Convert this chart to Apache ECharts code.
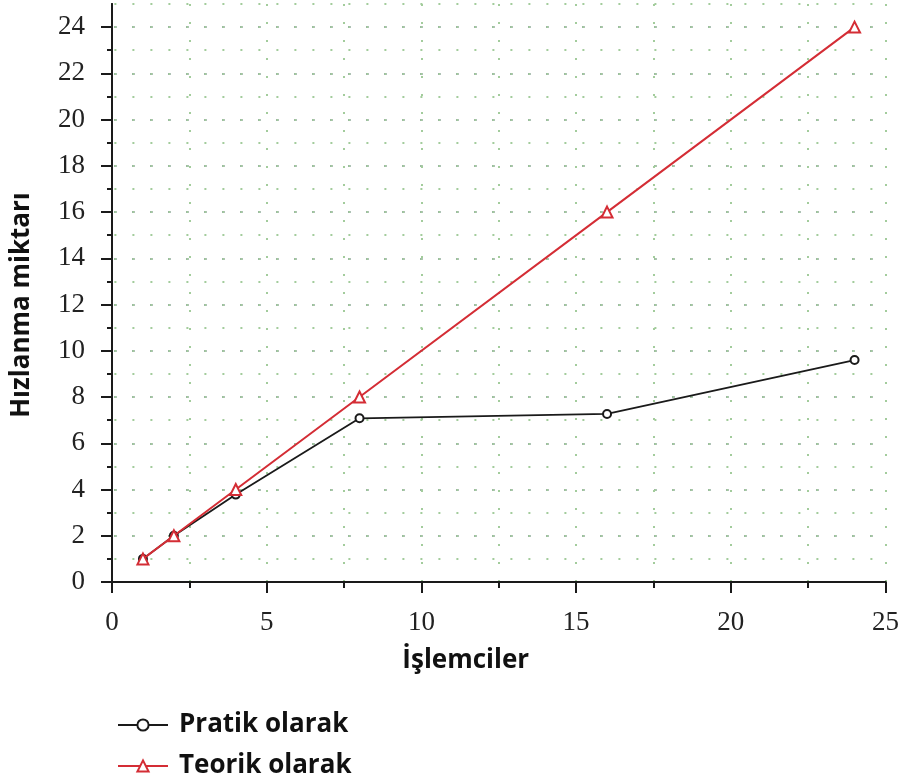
<!DOCTYPE html>
<html>
<head>
<meta charset="utf-8">
<script src="https://cdn.jsdelivr.net/npm/echarts@6/dist/echarts.min.js"></script>
<style>
  html, body { margin: 0; padding: 0; background: #fff; }
  #chart { width: 902px; height: 784px; }
</style>
</head>
<body>
<div id="chart"></div>
<script>
// Processor counts and measured / ideal speedup
const processors = [1, 2, 4, 8, 16, 24];
const pratik = [1, 2, 3.78, 7.08, 7.27, 9.6];
const teorik = [1, 2, 4, 8, 16, 24];

const seriesNames = ['Pratik olarak', 'Teorik olarak'];
const xName = 'İşlemciler';
const yName = 'Hızlanma miktarı';

// Tick values
const yMajorTicks = [0, 2, 4, 6, 8, 10, 12, 14, 16, 18, 20, 22, 24];
const yMinorTicks = [1, 3, 5, 7, 9, 11, 13, 15, 17, 19, 21, 23];
const xMajorTicks = [0, 5, 10, 15, 20, 25];
const xMinorTicks = [2.5, 7.5, 12.5, 17.5, 22.5];

const X_MIN = 0, X_MAX = 25, Y_MIN = 0, Y_MAX = 25;

const axisColor = '#1a1a1a';
const dotBlue = '#4f5b78';
const dotGreen = '#a3cc9c';
const dots = [2, 16];
const labelFont = { fontFamily: 'Liberation Serif', fontSize: 27, color: '#222' };
const nameFont = { fontFamily: 'Open Sans', fontWeight: 'bold', fontSize: 26, color: '#111' };

const line = { show: true, lineStyle: { color: axisColor, width: 2 } };
const noLine = { show: false };

function pairs(ys) { return processors.map((x, i) => [x, ys[i]]); }

// One legend block per row, stacked under the plot
function legendRow(name, top) {
  return {
    orient: 'vertical', left: 112, top: top,
    itemWidth: 50, itemHeight: 14,
    data: [name],
    textStyle: Object.assign({}, nameFont, { padding: [0, 0, 0, 6] })
  };
}

const chart = echarts.init(document.getElementById('chart'), null, { renderer: 'canvas' });

chart.setOption({
  backgroundColor: '#fff',
  animation: false,
  grid: { left: 112, right: 16, top: 4, bottom: 202, containLabel: false },
  legend: [legendRow(seriesNames[0], 707), legendRow(seriesNames[1], 748)],
  xAxis: [
    { // bottom, major ticks and labels
      type: 'value', position: 'bottom', min: X_MIN, max: X_MAX, interval: 5,
      axisLine: line,
      axisTick: { show: true, inside: false, length: 11, lineStyle: { color: axisColor, width: 2 }, customValues: xMajorTicks },
      axisLabel: Object.assign({ margin: 27, customValues: xMajorTicks }, labelFont),
      splitLine: { show: true, lineStyle: { color: dotBlue, width: 2, type: dots } },
      name: xName, nameLocation: 'middle', nameGap: 66,
      nameTextStyle: Object.assign({ padding: [0, 66, 0, 0] }, nameFont)
    },
    { // bottom, minor ticks
      type: 'value', position: 'bottom', min: X_MIN, max: X_MAX, interval: 2.5,
      axisLine: noLine,
      axisTick: { show: true, inside: false, length: 6, lineStyle: { color: axisColor, width: 2 }, customValues: xMinorTicks },
      axisLabel: { show: false },
      splitLine: { show: false }
    },
    { // minor grid columns
      type: 'value', position: 'bottom', min: X_MIN, max: X_MAX, interval: 2.5,
      axisLine: noLine, axisTick: { show: false }, axisLabel: { show: false },
      splitLine: { show: true, lineStyle: { color: dotGreen, width: 2, type: dots } },
      z: 0
    },
    { // top, major ticks inward
      type: 'value', position: 'top', min: X_MIN, max: X_MAX, interval: 5,
      axisLine: line,
      axisTick: { show: true, inside: true, length: 11, lineStyle: { color: axisColor, width: 2 }, customValues: xMajorTicks },
      axisLabel: { show: false }, splitLine: { show: false }
    },
    { // top, minor ticks inward
      type: 'value', position: 'top', min: X_MIN, max: X_MAX, interval: 2.5,
      axisLine: noLine,
      axisTick: { show: true, inside: true, length: 6, lineStyle: { color: axisColor, width: 2 }, customValues: xMinorTicks },
      axisLabel: { show: false }, splitLine: { show: false }
    }
  ],
  yAxis: [
    { // left, major ticks and labels
      type: 'value', position: 'left', min: Y_MIN, max: Y_MAX, interval: 2,
      axisLine: line,
      axisTick: { show: true, inside: false, length: 10, lineStyle: { color: axisColor, width: 2 }, customValues: yMajorTicks },
      axisLabel: Object.assign({ margin: 27, customValues: yMajorTicks }, labelFont),
      splitLine: { show: true, lineStyle: { color: dotBlue, width: 2, type: dots, dashOffset: 15.6 } },
      name: yName, nameLocation: 'middle', nameGap: 77, nameRotate: 90,
      nameTextStyle: Object.assign({ padding: [0, 24, 0, 0] }, nameFont)
    },
    { // left, minor ticks
      type: 'value', position: 'left', min: Y_MIN, max: Y_MAX, interval: 1,
      axisLine: noLine,
      axisTick: { show: true, inside: false, length: 5, lineStyle: { color: axisColor, width: 2 }, customValues: yMinorTicks },
      axisLabel: { show: false },
      splitLine: { show: false }
    },
    { // minor grid rows
      type: 'value', position: 'left', min: Y_MIN, max: Y_MAX, interval: 1,
      axisLine: noLine, axisTick: { show: false }, axisLabel: { show: false },
      splitLine: { show: true, lineStyle: { color: dotGreen, width: 2, type: dots, dashOffset: 15.6 } },
      z: 0
    },
    { // right, major ticks inward
      type: 'value', position: 'right', min: Y_MIN, max: Y_MAX, interval: 2,
      axisLine: line,
      axisTick: { show: true, inside: true, length: 11, lineStyle: { color: axisColor, width: 2 }, customValues: yMajorTicks },
      axisLabel: { show: false }, splitLine: { show: false }
    },
    { // right, minor ticks inward
      type: 'value', position: 'right', min: Y_MIN, max: Y_MAX, interval: 1,
      axisLine: noLine,
      axisTick: { show: true, inside: true, length: 5, lineStyle: { color: axisColor, width: 2 }, customValues: yMinorTicks },
      axisLabel: { show: false }, splitLine: { show: false }
    }
  ],
  series: [
    {
      name: seriesNames[0], type: 'line', xAxisIndex: 0, yAxisIndex: 0,
      data: pairs(pratik),
      symbol: 'emptyCircle', symbolSize: 8,
      lineStyle: { color: '#1a1a1a', width: 1.8 },
      itemStyle: { color: '#1a1a1a', borderWidth: 1.8 },
      z: 3
    },
    {
      name: seriesNames[1], type: 'line', xAxisIndex: 0, yAxisIndex: 0,
      data: pairs(teorik),
      symbol: 'emptyTriangle', symbolSize: 11,
      lineStyle: { color: '#d42d35', width: 2 },
      itemStyle: { color: '#d42d35', borderWidth: 1.8 },
      z: 4
    }
  ]
});
</script>
</body>
</html>
